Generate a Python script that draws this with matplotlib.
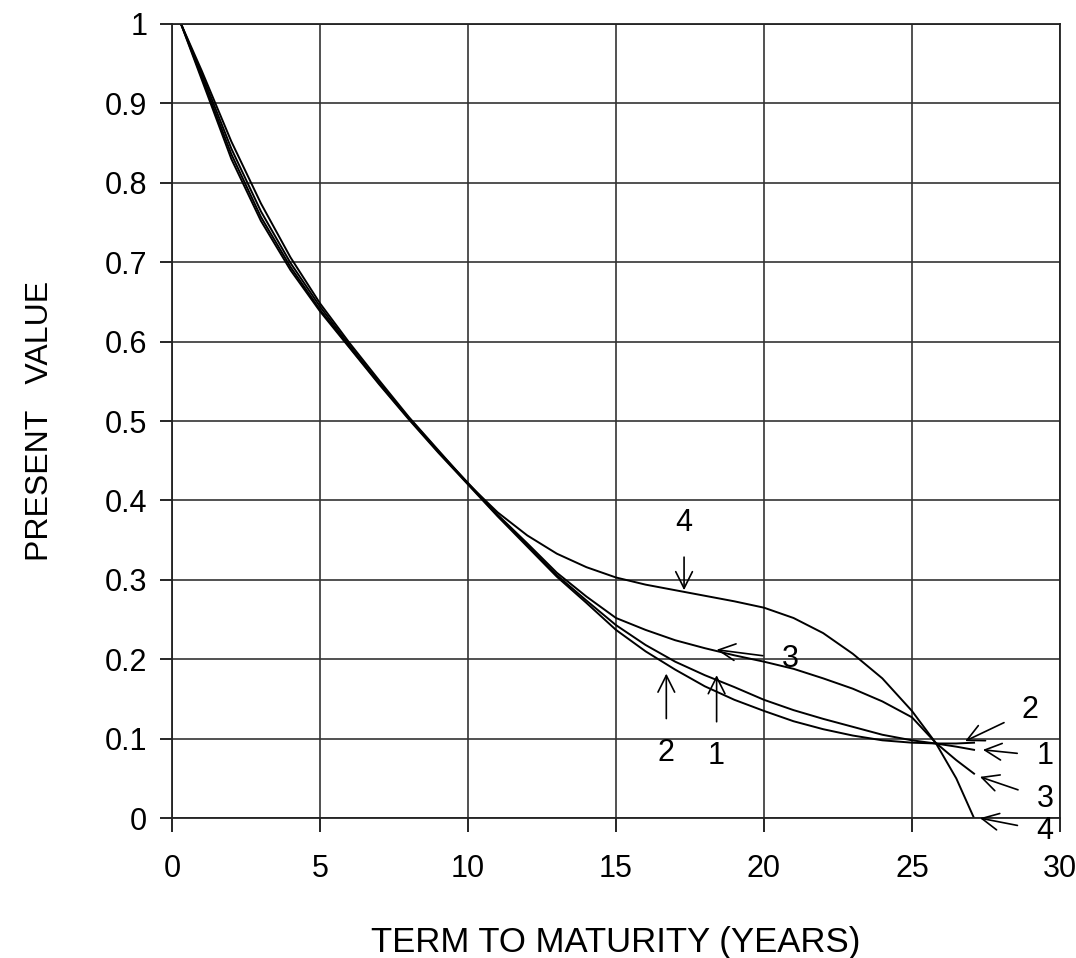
import matplotlib.pyplot as plt

# Present value curves
term = [0.3, 1, 2, 3, 4, 5, 6, 7, 8, 9, 10, 11, 12, 13, 14, 15,
        16, 17, 18, 19, 20, 21, 22, 23, 24, 25, 25.8, 26.5, 27.1]

pv_1 = [1.0, 0.933, 0.836, 0.757, 0.694, 0.640, 0.593, 0.547, 0.503, 0.461, 0.421,
        0.381, 0.344, 0.306, 0.274, 0.243,
        0.218, 0.197, 0.180, 0.165, 0.149, 0.136, 0.125, 0.115, 0.105, 0.098,
        0.094, 0.090, 0.086]
pv_2 = [1.0, 0.930, 0.830, 0.752, 0.690, 0.638, 0.592, 0.546, 0.502, 0.460, 0.420,
        0.380, 0.342, 0.304, 0.271, 0.237,
        0.210, 0.187, 0.166, 0.149, 0.135, 0.122, 0.112, 0.104, 0.098, 0.095,
        0.094, 0.094, 0.095]
pv_3 = [1.0, 0.937, 0.843, 0.764, 0.699, 0.644, 0.595, 0.548, 0.504, 0.462, 0.422,
        0.382, 0.346, 0.309, 0.279, 0.252,
        0.237, 0.224, 0.214, 0.205, 0.197, 0.188, 0.176, 0.163, 0.147, 0.127,
        0.095, 0.073, 0.056]
pv_4 = [1.0, 0.941, 0.852, 0.774, 0.706, 0.648, 0.598, 0.551, 0.505, 0.463, 0.421,
        0.385, 0.356, 0.333, 0.316, 0.303,
        0.294, 0.287, 0.280, 0.273, 0.265, 0.252, 0.233, 0.207, 0.176, 0.135,
        0.095, 0.050, 0.0]

curves = [pv_1, pv_2, pv_3, pv_4]

# curve labels: (text, label position, arrow tip)
callouts = [
    ("4", (17.3, 0.372), (17.3, 0.287)),
    ("3", (20.9, 0.200), (18.4, 0.212)),
    ("2", (16.7, 0.082), (16.7, 0.182)),
    ("1", (18.4, 0.078), (18.4, 0.180)),
    ("2", (29.0, 0.136), (26.8, 0.097)),
    ("1", (29.5, 0.078), (27.4, 0.086)),
    ("3", (29.5, 0.024), (27.3, 0.052)),
    ("4", (29.5, -0.016), (27.3, 0.0)),
]

fig = plt.figure(figsize=(10.76, 9.58), dpi=100)
ax = fig.add_axes([0.16, 0.146, 0.825, 0.829])

for pv in curves:
    ax.plot(term, pv, color="black", lw=1.4, solid_joinstyle="round")

for text, (tx, ty), (hx, hy) in callouts:
    ax.annotate(text, xy=(hx, hy), xytext=(tx, ty),
                ha="center", va="center", fontsize=22, family="Liberation Sans",
                arrowprops=dict(arrowstyle="->", lw=1.2, color="black",
                                mutation_scale=30, shrinkA=12, shrinkB=0))

ax.set_xlim(0, 30)
ax.set_ylim(0, 1)
ax.set_xticks(range(0, 31, 5))
ax.set_yticks([i / 10 for i in range(11)])
ax.set_yticklabels(["0", "0.1", "0.2", "0.3", "0.4", "0.5", "0.6", "0.7", "0.8", "0.9", "1"])
ax.grid(True, color="#333333", lw=1.2)
ax.set_axisbelow(True)
for s in ax.spines.values():
    s.set_color("#222222")
    s.set_linewidth(1.3)

ax.tick_params(axis="x", length=10, width=1.2, pad=16, labelsize=22)
ax.tick_params(axis="y", length=9, width=1.2, pad=9, labelsize=22)
for lbl in ax.get_xticklabels() + ax.get_yticklabels():
    lbl.set_family("Liberation Sans")

ax.set_xlabel("TERM TO MATURITY (YEARS)", fontsize=25, family="Liberation Sans", labelpad=30)
ax.set_ylabel("PRESENT   VALUE", fontsize=23, family="Liberation Sans", labelpad=36)

plt.savefig("out.png", dpi=100)
